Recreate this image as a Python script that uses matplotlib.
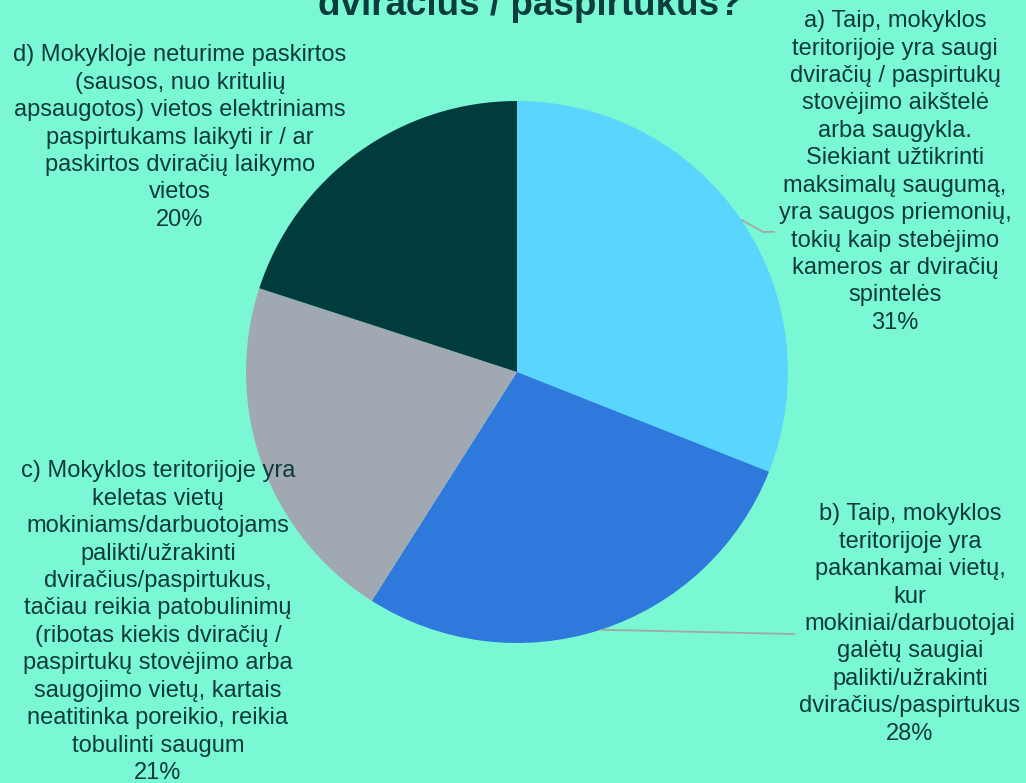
import numpy as np
import matplotlib
matplotlib.use("Agg")
import matplotlib.pyplot as plt

plt.rcParams['font.family'] = ['Liberation Sans', 'DejaVu Sans']

# Survey answers and shares (%)
labels = [
    "a) Taip, mokyklos\nteritorijoje yra saugi\ndviračių / paspirtukų\nstovėjimo aikštelė\narba saugykla.\nSiekiant užtikrinti\nmaksimalų saugumą,\nyra saugos priemonių,\ntokių kaip stebėjimo\nkameros ar dviračių\nspintelės",
    "b) Taip, mokyklos\nteritorijoje yra\npakankamai vietų,\nkur\nmokiniai/darbuotojai\ngalėtų saugiai\npalikti/užrakinti\ndviračius/paspirtukus",
    "c) Mokyklos teritorijoje yra\nkeletas vietų\nmokiniams/darbuotojams\npalikti/užrakinti\ndviračius/paspirtukus,\ntačiau reikia patobulinimų\n(ribotas kiekis dviračių /\npaspirtukų stovėjimo arba\nsaugojimo vietų, kartais\nneatitinka poreikio, reikia\ntobulinti saugum",
    "d) Mokykloje neturime paskirtos\n(sausos, nuo kritulių\napsaugotos) vietos elektriniams\npaspirtukams laikyti ir / ar\npaskirtos dviračių laikymo\nvietos",
]
shares = [31, 28, 21, 20]
colors = ["#5AD5FE", "#2F79DD", "#A0A8B2", "#003C3E"]
title = "Ar mokykloje yra saugi vieta palikti\ndviračius / paspirtukus?"

bg = "#7AF8D3"
txt = "#0E3B3A"

W, H = 1026, 783
fig = plt.figure(figsize=(W / 100, H / 100), dpi=100, facecolor=bg)

cx, cy, r = 517, 372, 271
ax = fig.add_axes([(cx - r) / W, (H - cy - r) / H, 2 * r / W, 2 * r / H])
ax.set_facecolor(bg)
wedges, _ = ax.pie(shares, colors=colors, startangle=90, counterclock=False,
                   radius=1, wedgeprops=dict(linewidth=0))
ax.set_xlim(-1, 1)
ax.set_ylim(-1, 1)
ax.set_aspect('equal')
ax.axis('off')

# label block centres (data units relative to pie radius)
label_pos = [(1.395, 0.738), (1.45, -0.93), (-1.325, -0.923), (-1.244, 0.865)]
for lab, s, (x, y) in zip(labels, shares, label_pos):
    ax.text(x, y, f"{lab}\n{s}%", ha='center', va='center', fontsize=17,
            color=txt, linespacing=1.32, clip_on=False)

# leader lines from wedge middle to labels
leader_ends = {0: [(0.908, 0.517), (0.952, 0.517)], 1: [(1.026, -0.967)]}
for i, pts in leader_ends.items():
    w = wedges[i]
    ang = np.deg2rad((w.theta1 + w.theta2) / 2)
    xs = [np.cos(ang)] + [p[0] for p in pts]
    ys = [np.sin(ang)] + [p[1] for p in pts]
    ax.plot(xs, ys, color="#A6A6A6", lw=1.3, clip_on=False, solid_capstyle='butt')

fig.text(530 / W, 1 - 15 / H, title, ha='center', va='baseline', fontsize=26.5,
         fontweight='bold', color="#0A3D3C", linespacing=1.0)

fig.savefig("out.png", dpi=100, facecolor=bg)
